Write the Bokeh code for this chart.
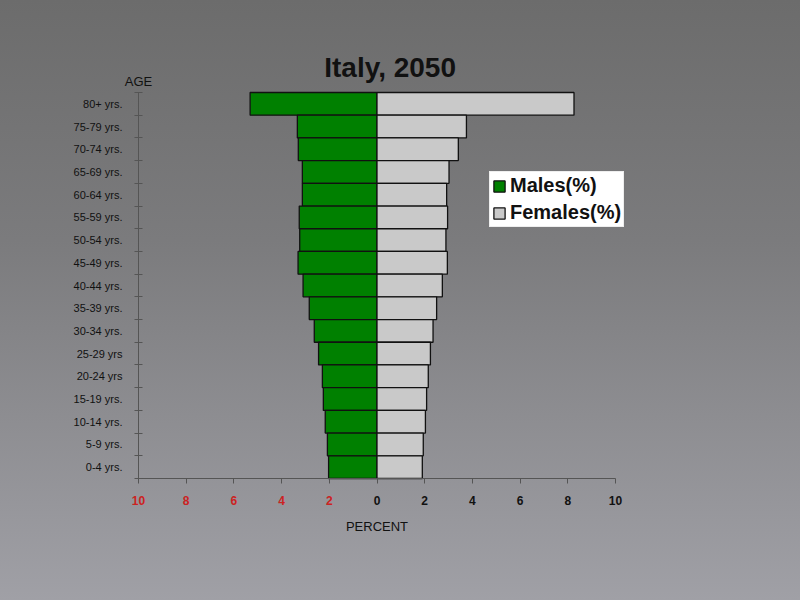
from bokeh.plotting import figure
from bokeh.models import ColumnDataSource, FixedTicker, Legend, LegendItem
from bokeh.embed import file_html
from bokeh.resources import INLINE
from bokeh.core.properties import value

# ---- data (top row first, as in the picture) ----
age_groups = ["80+ yrs.", "75-79 yrs.", "70-74 yrs.", "65-69 yrs.", "60-64 yrs.",
              "55-59 yrs.", "50-54 yrs.", "45-49 yrs.", "40-44 yrs.", "35-39 yrs.",
              "30-34 yrs.", "25-29 yrs", "20-24 yrs", "15-19 yrs.", "10-14 yrs.",
              "5-9 yrs.", "0-4 yrs."]
males_pct = [5.32, 3.34, 3.30, 3.13, 3.13, 3.26, 3.24, 3.31, 3.10, 2.84,
             2.63, 2.45, 2.29, 2.25, 2.17, 2.08, 2.03]
females_pct = [8.26, 3.75, 3.41, 3.02, 2.92, 2.96, 2.89, 2.95, 2.74, 2.50,
               2.35, 2.24, 2.15, 2.08, 2.03, 1.94, 1.90]
x_ticks = [-10, -8, -6, -4, -2, 0, 2, 4, 6, 8, 10]
x_tick_labels = ["10", "8", "6", "4", "2", "0", "2", "4", "6", "8", "10"]
title_text = "Italy, 2050"
y_title = "AGE"
x_title = "PERCENT"

FONT = "Liberation Sans"
AXIS_COL = "#555555"
n = len(age_groups)
ypos = [n - 1 - i for i in range(n)]

# layout (pixels): the plotting frame covers the whole 800x600 canvas;
# the bar block spans y 92..478 and the percent scale -10..10 spans x 138..615
W, H = 800, 600
ROW_PX = (478 - 92) / n
X_PX = (615 - 138) / 20.0
x_lo = -10 - 138 / X_PX
x_hi = 10 + (W - 615) / X_PX
y_lo = -0.5 - (H - 478) / ROW_PX
y_hi = (n - 0.5) + 92 / ROW_PX

src = ColumnDataSource(dict(
    y=ypos,
    male_left=[-v for v in males_pct],
    female_right=females_pct,
    zero=[0] * n,
))

p = figure(width=W, height=H, output_backend="svg", toolbar_location=None,
           title=None, x_range=(x_lo, x_hi), y_range=(y_lo, y_hi),
           min_border=0)
p.styles = {"background": "linear-gradient(to bottom, #6c6c6c 0%, #7b7b7d 40%, #a0a0a6 100%)"}
p.background_fill_alpha = 0
p.border_fill_alpha = 0
p.outline_line_color = None
p.grid.visible = False

rm = p.hbar(y="y", left="male_left", right="zero", height=1.0, source=src,
            fill_color="#008000", line_color="#111111", line_width=1.3)
rf = p.hbar(y="y", left="zero", right="female_right", height=1.0, source=src,
            fill_color="#c9c9c9", line_color="#111111", line_width=1.3)

# y axis at x = -10: labels at row centres, tick marks at row boundaries
ya = p.yaxis[0]
ya.fixed_location = -10
ya.bounds = (-0.5, n - 0.5)
ya.ticker = FixedTicker(ticks=ypos, minor_ticks=[k - 0.5 for k in range(n + 1)])
ya.major_label_overrides = {yv: lab for yv, lab in zip(ypos, age_groups)}
ya.major_tick_line_color = None
ya.major_tick_in = 0
ya.major_tick_out = 0
ya.minor_tick_in = 4
ya.minor_tick_out = 4
ya.minor_tick_line_color = AXIS_COL
ya.axis_line_color = AXIS_COL
ya.major_label_standoff = 12
ya.major_label_text_font = FONT
ya.major_label_text_font_size = "11px"
ya.major_label_text_color = "#111111"

# x axis at the foot of the bars (black labels for the right-hand side)
xa = p.xaxis[0]
xa.fixed_location = -0.5
xa.bounds = (-10, 10)
xa.ticker = FixedTicker(ticks=x_ticks, minor_ticks=[])
xa.major_label_overrides = {t: (lab if t >= 0 else "") for t, lab in zip(x_ticks, x_tick_labels)}
xa.major_label_text_font = FONT
xa.major_label_text_font_size = "12px"
xa.major_label_text_font_style = "bold"
xa.major_label_text_color = "#111111"
xa.major_label_standoff = 12
xa.major_tick_in = 0
xa.major_tick_out = 5
xa.major_tick_line_color = AXIS_COL
xa.axis_line_color = AXIS_COL
xa.axis_label = x_title
xa.axis_label_text_font = FONT
xa.axis_label_text_font_size = "13px"
xa.axis_label_text_font_style = "normal"
xa.axis_label_text_color = "#111111"
xa.axis_label_standoff = 11

# red labels for the left-hand (male) side of the percent axis
neg = [(t, lab) for t, lab in zip(x_ticks, x_tick_labels) if t < 0]
p.text(x=[t for t, _ in neg], y=[-0.5] * len(neg), text=[lab for _, lab in neg],
       y_offset=17, text_align="center", text_baseline="top",
       text_font=value(FONT), text_font_size="12px", text_font_style="bold",
       text_color="#cc2222")

# "AGE" heading over the y axis and the chart title
p.text(x=[-10], y=[n - 0.5], text=[y_title], y_offset=-4, text_align="center",
       text_baseline="bottom", text_font=value(FONT), text_font_size="13px",
       text_color="#111111")
p.text(x=[0.55], y=[n - 0.5], text=[title_text], y_offset=-25, text_align="center",
       text_baseline="alphabetic", text_font=value(FONT), text_font_size="28px",
       text_font_style="bold", text_color="#111111")

legend = Legend(items=[LegendItem(label="Males(%)", renderers=[rm]),
                       LegendItem(label="Females(%)", renderers=[rf])],
                location=(489, H - 227), orientation="vertical",
                background_fill_color="white", background_fill_alpha=1.0,
                border_line_color="#dddddd", border_line_width=1,
                label_text_font=FONT, label_text_font_size="20px",
                label_text_font_style="bold", label_text_color="#111111",
                glyph_width=14, glyph_height=14, label_standoff=4,
                label_height=22, spacing=4, padding=2, margin=0)
p.add_layout(legend, "center")

open("out.html", "w").write(file_html(p, INLINE))
